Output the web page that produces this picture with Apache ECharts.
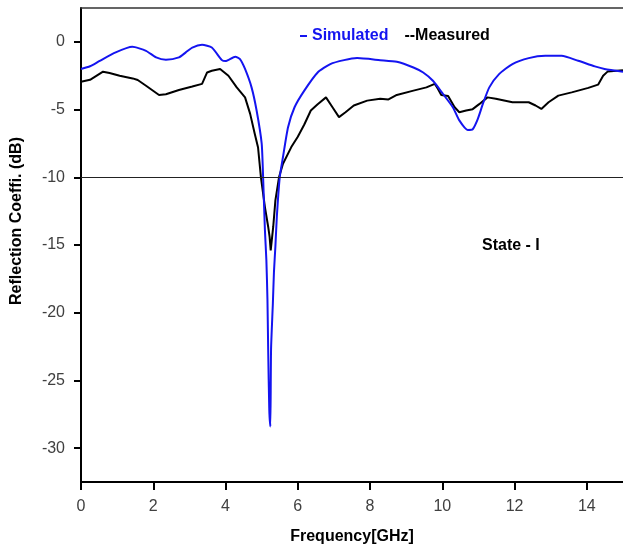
<!DOCTYPE html>
<html>
<head>
<meta charset="utf-8">
<script src="https://cdn.jsdelivr.net/npm/echarts@6/dist/echarts.min.js"></script>
<style>
  html, body { margin: 0; padding: 0; background: #fff; }
  #chart { width: 623px; height: 550px; }
</style>
</head>
<body>
<div id="chart"></div>
<script>
// Reflection coefficient vs frequency, simulated and measured
const xTicks = [0, 2, 4, 6, 8, 10, 12, 14];
const yTicks = [-30, -25, -20, -15, -10, -5, 0];

const simFreq = [0, 0.25, 0.52, 0.96, 1.42, 1.8, 2.08, 2.35, 2.71, 2.9, 3.08, 3.35, 3.62, 3.9, 4.0,
  4.27, 4.4, 4.54, 4.72, 4.86, 5.0, 5.04, 5.09, 5.13, 5.16, 5.18, 5.21, 5.24, 5.26, 5.31, 5.34,
  5.38, 5.42, 5.5, 5.59, 5.73, 5.91, 6.18, 6.55, 6.9, 7.28, 7.64, 8.28, 8.74, 9.2, 9.47, 9.74,
  10.02, 10.29, 10.47, 10.7, 10.84, 10.98, 11.12, 11.3, 11.57, 11.94, 12.39, 12.85, 13.3, 13.76,
  14.22, 14.49, 15];
const simDb = [-2.0, -1.8, -1.4, -0.78, -0.37, -0.66, -1.15, -1.32, -1.15, -0.78, -0.42, -0.22, -0.42, -1.35, -1.42,
  -1.1, -1.27, -2.0, -3.36, -5.07, -7.5, -10, -13.9, -16.1, -19, -22.7, -27.1, -28.4, -22.7, -19.3, -17,
  -15.1, -12.9, -10, -8.5, -6.3, -4.83, -3.6, -2.26, -1.64, -1.35, -1.2, -1.35, -1.47, -1.89, -2.26, -2.87,
  -3.85, -4.83, -5.8, -6.5, -6.45, -5.7, -4.6, -3.36, -2.38, -1.64, -1.2, -1.03, -1.03, -1.4,
  -1.81, -2.0, -2.2];

const measFreq = [0, 0.25, 0.61, 0.79, 1.07, 1.43, 1.57, 1.62, 1.8, 2.16, 2.35, 2.71, 3.08, 3.35, 3.49,
  3.62, 3.85, 4.08, 4.31, 4.54, 4.68, 4.81, 4.9, 4.98, 5.09, 5.18, 5.22, 5.25, 5.32, 5.38, 5.48,
  5.59, 5.82, 6.0, 6.18, 6.36, 6.55, 6.78, 6.96, 7.14, 7.32, 7.55, 7.92, 8.28, 8.51, 8.74, 9.2,
  9.56, 9.79, 9.88, 9.97, 10.16, 10.34, 10.47, 10.66, 10.84, 11.02, 11.25, 11.48, 11.94, 12.39,
  12.58, 12.74, 12.94, 13.21, 13.58, 14.04, 14.31, 14.45, 14.58, 15];
const measDb = [-2.94, -2.8, -2.2, -2.3, -2.5, -2.7, -2.82, -2.72, -3.24, -3.92, -3.87, -3.55, -3.3, -3.1, -2.26,
  -2.13, -2.0, -2.5, -3.36, -4.1, -5.3, -6.8, -7.8, -10, -12.2, -13.65, -14.4, -15.4, -13.65, -11.7, -10,
  -9.0, -7.77, -7.0, -6.1, -5.07, -4.6, -4.1, -4.83, -5.56, -5.2, -4.7, -4.34, -4.2, -4.25, -3.92, -3.6,
  -3.36, -3.1, -3.48, -3.92, -4.0, -4.83, -5.2, -5.07, -4.97, -4.6, -4.1, -4.2, -4.46, -4.46,
  -4.7, -4.95, -4.46, -3.97, -3.73, -3.4, -3.16, -2.5, -2.18, -2.1];

const zip = (xs, ys) => xs.map((x, i) => [x, ys[i]]);

const chart = echarts.init(document.getElementById('chart'), null, { renderer: 'canvas' });

const boldFont = 'Liberation Sans, Arial, sans-serif';
const tickFont = 'Liberation Sans Narrow, Arial Narrow, sans-serif';

chart.setOption({
  animation: false,
  backgroundColor: '#fff',
  grid: { left: 81, top: 8, right: -5.5, bottom: 68 },
  legend: {
    left: 295,
    top: 23,
    itemWidth: 7,
    itemHeight: 2,
    itemGap: 4,
    textStyle: { fontFamily: boldFont, fontWeight: 'bold', fontSize: 16 },
    data: [
      { name: 'Simulated', icon: 'rect', textStyle: { color: '#1414f0' } },
      { name: 'Measured', icon: 'none', textStyle: { color: '#000' } }
    ],
    formatter: n => (n === 'Measured' ? '--Measured' : n)
  },
  xAxis: [
    {
      type: 'value',
      min: 0,
      max: 15,
      name: 'Frequency[GHz]',
      nameLocation: 'middle',
      nameGap: 47,
      nameTextStyle: { fontFamily: boldFont, fontWeight: 'bold', fontSize: 16, color: '#000' },
      axisLine: { onZero: false, lineStyle: { color: '#000', width: 2 } },
      axisTick: { customValues: xTicks, length: 8, lineStyle: { color: '#000', width: 2 } },
      axisLabel: { customValues: xTicks, margin: 17, fontFamily: tickFont, fontSize: 16, color: '#404040' },
      splitLine: { show: false }
    },
    {
      type: 'value',
      position: 'top',
      min: 0,
      max: 15,
      axisLine: { show: true, onZero: false, lineStyle: { color: '#333', width: 1.5 } },
      axisTick: { show: false },
      axisLabel: { show: false },
      splitLine: { show: false }
    }
  ],
  yAxis: {
    type: 'value',
    min: -32.5,
    max: 2.5,
    axisLine: { show: true, onZero: false, lineStyle: { color: '#000', width: 2 } },
    axisTick: { show: true, customValues: yTicks, length: 7, lineStyle: { color: '#000', width: 2 } },
    axisLabel: { customValues: yTicks, margin: 16, fontFamily: tickFont, fontSize: 16, color: '#404040' },
    splitLine: { show: false }
  },
  graphic: [
    {
      type: 'text',
      x: 17,
      y: 221,
      rotation: Math.PI / 2,
      style: {
        text: 'Reflection Coeffi. (dB)',
        font: 'bold 16px Liberation Sans, Arial, sans-serif',
        fill: '#000',
        align: 'center',
        verticalAlign: 'middle'
      }
    },
    {
      type: 'text',
      left: 482,
      top: 238,
      style: {
        text: 'State - I',
        font: 'bold 16px Liberation Sans, Arial, sans-serif',
        fill: '#000'
      }
    }
  ],
  series: [
    {
      name: 'Simulated',
      type: 'line',
      data: zip(simFreq, simDb),
      showSymbol: false,
      smooth: 0.2,
      lineStyle: { color: '#1414f0', width: 2 },
      itemStyle: { color: '#1414f0' },
      z: 3
    },
    {
      name: 'Measured',
      type: 'line',
      data: zip(measFreq, measDb),
      showSymbol: false,
      lineStyle: { color: '#000', width: 2 },
      itemStyle: { color: '#000' },
      z: 2,
      markLine: {
        silent: true,
        symbol: 'none',
        label: { show: false },
        lineStyle: { color: '#222', width: 1, type: 'solid' },
        data: [{ yAxis: -10 }]
      }
    }
  ]
});
</script>
</body>
</html>
